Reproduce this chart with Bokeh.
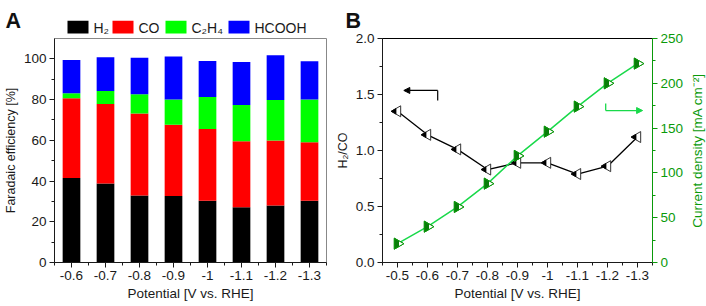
from bokeh.plotting import figure
from bokeh.layouts import row, column
from bokeh.models import (Range1d, LinearAxis, FixedTicker, Arrow, NormalHead, ColumnDataSource)
from bokeh.core.properties import value
from bokeh.embed import file_html
from bokeh.resources import INLINE
import math

FONT = "Liberation Sans"

# ---------------- data: panel A ----------------
potentials_a = ["-0.6", "-0.7", "-0.8", "-0.9", "-1", "-1.1", "-1.2", "-1.3"]
fe_h2 = [41.5, 38.8, 32.9, 32.6, 30.3, 27.1, 28.0, 30.3]
fe_co = [39.1, 39.0, 40.3, 35.0, 35.2, 32.4, 31.9, 28.7]
fe_c2h4 = [2.5, 6.4, 9.4, 12.5, 15.8, 17.8, 19.9, 21.1]
fe_hcooh = [16.4, 16.6, 17.9, 21.1, 17.7, 21.1, 22.0, 18.7]
products = ["H2", "CO", "C2H4", "HCOOH"]
product_labels = ["H\u2082", "CO", "C\u2082H\u2084", "HCOOH"]
product_colors = ["#000000", "#ff0000", "#00ff00", "#0000ff"]
fe_ticks = [0, 20, 40, 60, 80, 100]
fe_minor = [10, 30, 50, 70, 90]

# ---------------- data: panel B ----------------
potentials_b = [-0.5, -0.6, -0.7, -0.8, -0.9, -1.0, -1.1, -1.2, -1.3]
potential_b_labels = ["-0.5", "-0.6", "-0.7", "-0.8", "-0.9", "-1", "-1.1", "-1.2", "-1.3"]
h2_co_ratio = [1.35, 1.14, 1.01, 0.83, 0.89, 0.89, 0.79, 0.86, 1.12]
current_density = [21, 40, 62, 88, 119, 146, 174, 200, 222]
ratio_ticks = [0.0, 0.5, 1.0, 1.5, 2.0]
cd_ticks = [0, 50, 100, 150, 200, 250]
cd_label = "Current density [mA cm\u207b\u00b2]"

# annotation arrows (data coordinates)
black_arrow = dict(x_corner=-0.634, x_head=-0.521, y=1.536, y_drop=1.446)
green_arrow = dict(x_corner=-1.194, x_head=-1.317, y=169.6, y_rise=177.5)

TXT = "#1a1a1a"
GREEN_AX = "#0a9a0a"
GREEN_LINE = "#19d94a"
GREEN_FILL = "#0a7d0a"

W, H = 706, 306
W1, W3 = 332, 20
W2 = W - W1 - W3
TOP = 38          # canvas y of the frames' top edge
BOT = 44
FRAME_H = H - TOP - BOT

_probe = figure(width=10, height=10)
SEPARATE = "frame_align" in _probe.properties()
FA = dict(frame_align=False) if SEPARATE else {}

if SEPARATE:
    HEAD_A, HEAD_B = 36, 30
    LEG_Y = 26.6
else:
    HEAD_A = HEAD_B = 30
    LEG_Y = 23.5
PAD_A, PAD_B = TOP - HEAD_A, TOP - HEAD_B


def style_axis(ax, color=TXT, label_size="13.5px"):
    ax.axis_label_text_font = FONT
    ax.axis_label_text_font_size = label_size
    ax.axis_label_text_font_style = "normal"
    ax.axis_label_text_color = color
    ax.axis_label_standoff = 3
    ax.major_label_text_font = FONT
    ax.major_label_text_font_size = "13.5px"
    ax.major_label_text_color = color
    ax.major_label_standoff = 3
    ax.axis_line_color = color
    ax.major_tick_line_color = color
    ax.minor_tick_line_color = color
    ax.major_tick_in = 0
    ax.major_tick_out = 5
    ax.minor_tick_in = 0
    ax.minor_tick_out = 3


def strip(w, h):
    f = figure(width=w, height=h, output_backend="svg", toolbar_location=None,
               x_range=Range1d(0, w), y_range=Range1d(h, 0), min_border=0,
               x_axis_location=None, y_axis_location=None, **FA)
    f.grid.visible = False
    f.outline_line_color = None
    return f


def panel_letter(f, x, letter):
    f.text(x=[x], y=[20.3], text=[letter], text_font=value(FONT),
           text_font_size=value("21.5px"), text_font_style="bold", text_color="#111111",
           text_baseline="alphabetic", text_align="left")


def legend_a(f):
    leg_x0, sw_w, sw_h, gap_txt = 67, 21, 12.6, 5
    leg_item_w = [45, 53, 63, 0]
    xs, cur = [], leg_x0
    for w in leg_item_w:
        xs.append(cur)
        cur += w
    f.rect(x=[x + sw_w / 2 for x in xs], y=[LEG_Y] * 4, width=sw_w, height=sw_h,
           fill_color=product_colors, line_color=None)
    f.text(x=[x + sw_w + gap_txt for x in xs], y=[LEG_Y + 0.6] * 4, text=product_labels,
           text_font=value(FONT), text_font_size=value("14px"), text_color=TXT,
           text_baseline="middle", text_align="left")


# ---------------- panel A ----------------
p1 = figure(width=W1, height=H - HEAD_A, output_backend="svg", toolbar_location=None,
            x_range=Range1d(-0.5, len(potentials_a) - 0.5), y_range=Range1d(0, 110),
            min_border_left=49, min_border_right=6, min_border_top=PAD_A, min_border_bottom=BOT,
            x_axis_label="Potential [V vs. RHE]", y_axis_label="Faradaic efficiency [%]", **FA)
p1.grid.visible = False
p1.outline_line_color = "#888888"

src = ColumnDataSource(dict(x=list(range(len(potentials_a))), H2=fe_h2, CO=fe_co,
                            C2H4=fe_c2h4, HCOOH=fe_hcooh))
p1.vbar_stack(products, x="x", width=0.52, color=product_colors, line_width=0, source=src)

p1.xaxis.ticker = FixedTicker(ticks=list(range(len(potentials_a))),
                              minor_ticks=[i + 0.5 for i in range(-1, len(potentials_a))])
p1.xaxis.major_label_overrides = {i: l for i, l in enumerate(potentials_a)}
p1.yaxis.ticker = FixedTicker(ticks=fe_ticks, minor_ticks=fe_minor)
style_axis(p1.xaxis[0])
style_axis(p1.yaxis[0], label_size="12.5px")

# ---------------- panel B ----------------
XL, XR = -0.45, -1.35
BL, BR = 46, 31
p2 = figure(width=W2, height=H - HEAD_B, output_backend="svg", toolbar_location=None,
            x_range=Range1d(XL, XR), y_range=Range1d(0, 2),
            min_border_left=BL, min_border_right=BR, min_border_top=PAD_B,
            min_border_bottom=BOT,
            x_axis_label="Potential [V vs. RHE]", y_axis_label="H\u2082/CO", **FA)
p2.grid.visible = False
p2.outline_line_color = "#000000"
p2.extra_y_ranges = {"cd": Range1d(0, 250)}
rax = LinearAxis(y_range_name="cd")
p2.add_layout(rax, "right")

p2.xaxis.ticker = FixedTicker(ticks=potentials_b,
                              minor_ticks=[round(v - 0.05, 2) for v in [-0.4] + potentials_b])
p2.xaxis.major_label_overrides = {v: l for v, l in zip(potentials_b, potential_b_labels)}
p2.yaxis[0].ticker = FixedTicker(ticks=ratio_ticks,
                                 minor_ticks=[t + 0.25 for t in ratio_ticks[:-1]])
p2.yaxis[0].major_label_overrides = {t: f"{t:.1f}" for t in ratio_ticks}
rax.ticker = FixedTicker(ticks=cd_ticks, minor_ticks=[t + 25 for t in cd_ticks[:-1]])
style_axis(p2.xaxis[0])
style_axis(p2.yaxis[0], label_size="12.5px")
style_axis(rax, GREEN_AX)

# pixel -> data conversion for half-filled marker offsets
frame_w = W2 - BL - BR
units_per_px = abs(XR - XL) / frame_w
MS = 11
tip_off = (MS / 2) * math.sqrt(3) / 3 * units_per_px  # in x data units

# H2/CO: left-pointing triangles (tip half filled black)
p2.line(potentials_b, h2_co_ratio, line_color="#000000", line_width=1.3)
p2.scatter(potentials_b, h2_co_ratio, marker="triangle", angle=math.pi / 2, size=MS,
           fill_color="white", line_color="#333333", line_width=1)
p2.scatter([v + tip_off for v in potentials_b], h2_co_ratio, marker="triangle",
           angle=math.pi / 2, size=MS / 2, fill_color="#000000", line_color="#000000",
           line_width=0.8)

# current density: right-pointing triangles (base half filled dark green)
p2.line(potentials_b, current_density, y_range_name="cd", line_color=GREEN_LINE, line_width=1.5)
p2.scatter(potentials_b, current_density, y_range_name="cd", marker="triangle",
           angle=-math.pi / 2, size=MS, fill_color=GREEN_FILL, line_color=GREEN_FILL, line_width=1)
p2.scatter([v - tip_off for v in potentials_b], current_density, y_range_name="cd",
           marker="triangle", angle=-math.pi / 2, size=MS / 2, fill_color="white",
           line_color=None)
p2.scatter(potentials_b, current_density, y_range_name="cd", marker="triangle",
           angle=-math.pi / 2, size=MS, fill_color=None, line_color=GREEN_AX, line_width=1)

# arrows
p2.add_layout(Arrow(x_start=black_arrow["x_corner"], y_start=black_arrow["y"],
                    x_end=black_arrow["x_head"], y_end=black_arrow["y"],
                    line_color="#000000", line_width=1.2,
                    end=NormalHead(size=6, fill_color="#000000", line_color="#000000")))
p2.segment(x0=[black_arrow["x_corner"]], y0=[black_arrow["y"]],
           x1=[black_arrow["x_corner"]], y1=[black_arrow["y_drop"]],
           line_color="#000000", line_width=1.2)
p2.add_layout(Arrow(x_start=green_arrow["x_corner"], y_start=green_arrow["y"],
                    x_end=green_arrow["x_head"], y_end=green_arrow["y"], y_range_name="cd",
                    line_color=GREEN_LINE, line_width=1.3,
                    end=NormalHead(size=6, fill_color=GREEN_LINE, line_color=GREEN_LINE)))
p2.segment(x0=[green_arrow["x_corner"]], y0=[green_arrow["y"]],
           x1=[green_arrow["x_corner"]], y1=[green_arrow["y_rise"]], y_range_name="cd",
           line_color=GREEN_LINE, line_width=1.3)

# ---------------- right-axis title strip ----------------
p3 = strip(W3, H - HEAD_B)
p3.text(x=[W3 / 2 + 1], y=[PAD_B + FRAME_H / 2], text=[cd_label], angle=math.pi / 2,
        text_font=value(FONT), text_font_size=value("13.5px"), text_color=GREEN_AX,
        text_align="center", text_baseline="middle")

if SEPARATE:
    h1 = strip(W1, HEAD_A)
    panel_letter(h1, 5, "A")
    legend_a(h1)
    h2 = strip(W2 + W3, HEAD_B)
    panel_letter(h2, 345 - W1, "B")
    layout = row(column(h1, p1, spacing=0),
                 column(h2, row(p2, p3, spacing=0), spacing=0), spacing=0)
else:
    p0 = strip(W, HEAD_A)
    panel_letter(p0, 5, "A")
    panel_letter(p0, 345, "B")
    legend_a(p0)
    layout = column(p0, row(p1, p2, p3, spacing=0), spacing=0)

open("out.html", "w").write(file_html(layout, INLINE))
